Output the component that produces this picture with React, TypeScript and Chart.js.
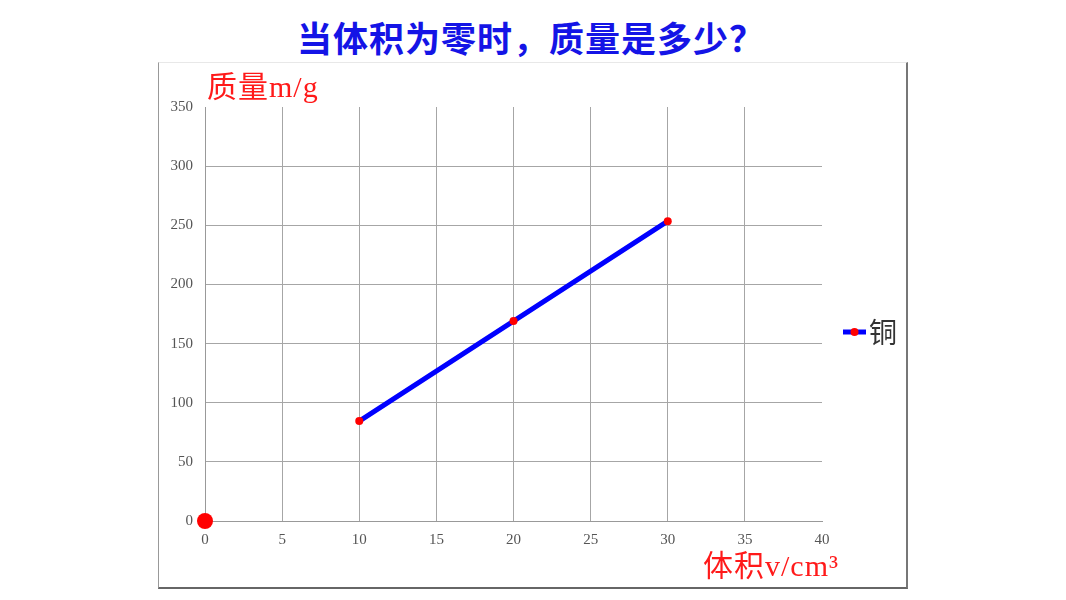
import React, { useEffect, useRef } from "react";
import { Chart, registerables } from "chart.js";

Chart.register(...registerables);

const pageTitle = "当体积为零时，质量是多少？";
const seriesName = "铜";
const volumes = [10, 20, 30];
const copperMass = [84.5, 169, 253.5];
const originVolume = [0];
const originMass = [0];
const yAxisTitle = "质量m/g";
const xAxisTitle = "体积v/cm³";
const xMin = 0, xMax = 40, xStep = 5;
const yMin = 0, yMax = 350, yStep = 50;

const labelsPlugin = {
  id: "customLabels",
  afterDraw(chart: any) {
    const { ctx, chartArea } = chart;
    ctx.save();
    ctx.fillStyle = "#ff1a1a";
    ctx.textBaseline = "middle";
    ctx.textAlign = "left";
    try { ctx.letterSpacing = "1px"; } catch (e) {}
    ctx.font = "30px 'Liberation Serif', 'Noto Sans CJK SC'";
    ctx.fillText(yAxisTitle, chartArea.left + 2, chartArea.top - 18);
    ctx.font = "30px 'Liberation Serif', 'Noto Sans CJK SC'";
    ctx.fillText(xAxisTitle, chartArea.right - 119, chartArea.bottom + 47);
    try { ctx.letterSpacing = "0px"; } catch (e) {}
    // legend
    const lx = chartArea.right + 21;
    const ly = chartArea.top + 225;
    ctx.strokeStyle = "#0000ff";
    ctx.lineWidth = 5;
    ctx.beginPath();
    ctx.moveTo(lx, ly);
    ctx.lineTo(lx + 23, ly);
    ctx.stroke();
    ctx.fillStyle = "#ff0000";
    ctx.beginPath();
    ctx.arc(lx + 11.5, ly, 4, 0, Math.PI * 2);
    ctx.fill();
    ctx.fillStyle = "#333333";
    ctx.font = "28px 'Noto Sans CJK SC'";
    ctx.fillText(seriesName, lx + 26, ly);
    ctx.restore();
  },
};

function ChartBox() {
  const ref = useRef<HTMLCanvasElement>(null);
  useEffect(() => {
    if (!ref.current) return;
    const chart = new Chart(ref.current, {
      type: "line",
      data: {
        datasets: [
          {
            label: seriesName,
            data: volumes.map((v, i) => ({ x: v, y: copperMass[i] })),
            borderColor: "#0000ff",
            borderWidth: 5,
            pointBackgroundColor: "#ff0000",
            pointBorderColor: "#ff0000",
            pointRadius: 4,
            pointBorderWidth: 0,
            tension: 0,
            clip: false as any,
          },
          {
            label: "origin",
            data: originVolume.map((v, i) => ({ x: v, y: originMass[i] })),
            showLine: false,
            pointBackgroundColor: "#ff0000",
            pointBorderColor: "#ff0000",
            pointRadius: 8,
            pointBorderWidth: 0,
            clip: false as any,
          },
        ],
      },
      options: {
        animation: false,
        responsive: true,
        maintainAspectRatio: false,
        layout: { padding: { left: 0, right: 84, top: 44, bottom: 0 } },
        plugins: { legend: { display: false }, tooltip: { enabled: false } },
        scales: {
          x: {
            type: "linear",
            min: xMin,
            max: xMax,
            ticks: {
              stepSize: xStep,
              padding: 10,
              color: "#555555",
              font: { family: "'Liberation Serif', serif", size: 15 },
            },
            grid: {
              drawTicks: false,
              color: (c: any) => (c.tick && c.tick.value === xMax ? "rgba(0,0,0,0)" : "#a6a6a6"),
              lineWidth: 1,
            },
            border: { color: "#999999", width: 1 },
            afterFit: (s: any) => {
              s.height = 66;
            },
          },
          y: {
            type: "linear",
            min: yMin,
            max: yMax,
            ticks: {
              stepSize: yStep,
              padding: 12,
              color: "#555555",
              font: { family: "'Liberation Serif', serif", size: 15 },
            },
            grid: {
              drawTicks: false,
              color: (c: any) => (c.tick && c.tick.value === yMax ? "rgba(0,0,0,0)" : "#a6a6a6"),
              lineWidth: 1,
            },
            border: { color: "#999999", width: 1 },
            afterFit: (s: any) => {
              s.width = 46;
            },
          },
        },
      },
      plugins: [labelsPlugin],
    });
    return () => chart.destroy();
  }, []);
  return <canvas ref={ref} />;
}

export default function App() {
  return (
    <div
      style={{
        position: "absolute",
        left: 0,
        top: 0,
        width: 1066,
        height: 600,
        background: "#ffffff",
        overflow: "hidden",
      }}
    >
      <div
        style={{
          position: "absolute",
          left: 8,
          width: 1046,
          top: 17,
          textAlign: "center",
          fontFamily: "'Noto Sans CJK SC', sans-serif",
          fontWeight: 700,
          fontSize: 35,
          lineHeight: "40px",
          letterSpacing: "1px",
          color: "#1414e6",
          ...({ textSpacingTrim: "space-all" } as any),
        }}
      >
        {pageTitle}
      </div>
      <div
        style={{
          position: "absolute",
          left: 158,
          top: 62,
          width: 747,
          height: 524,
          borderLeft: "1px solid #999999",
          borderTop: "1px solid #e8e8e8",
          borderRight: "2px solid #777777",
          borderBottom: "2px solid #666666",
        }}
      >
        <div style={{ position: "relative", width: 747, height: 524 }}>
          <ChartBox />
        </div>
      </div>
    </div>
  );
}
